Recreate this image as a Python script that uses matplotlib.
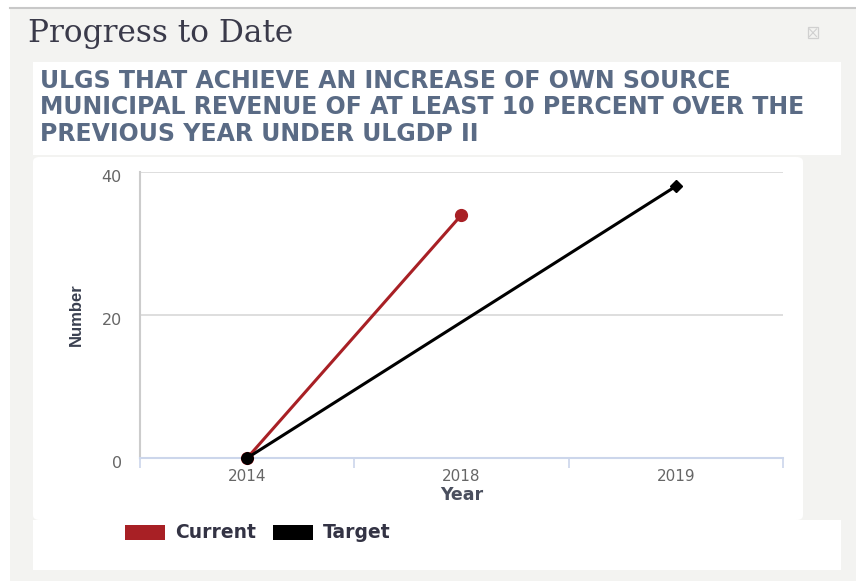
import matplotlib
matplotlib.use("Agg")
import matplotlib.pyplot as plt
from matplotlib.patches import FancyBboxPatch, Rectangle
import matplotlib.transforms as mtransforms
import numpy as np

categories = ["2014", "2018", "2019"]
current = [0, 34, None]
target = [0, None, 38]
y_ticks = [0, 20, 40]
panel_title = "Progress to Date"
chart_title = ["ULGS THAT ACHIEVE AN INCREASE OF OWN SOURCE",
               "MUNICIPAL REVENUE OF AT LEAST 10 PERCENT OVER THE",
               "PREVIOUS YEAR UNDER ULGDP II"]

W, H = 856, 581
fig = plt.figure(figsize=(W / 100, H / 100), dpi=100)
fig.patch.set_facecolor("white")

def fx(x):
    return x / W

def fy(y):
    return 1 - y / H

# panel background
fig.patches.append(Rectangle((fx(10), 0), fx(W - 10), fy(8), transform=fig.transFigure,
                             facecolor="#f3f3f1", edgecolor="none", zorder=0))
fig.add_artist(plt.Line2D([fx(10), 1], [fy(8), fy(8)], transform=fig.transFigure,
                          color="#c8c8c8", lw=1.5, zorder=1))
# white boxes
fig.patches.append(Rectangle((fx(33), fy(155)), fx(841 - 33), (155 - 62) / H, transform=fig.transFigure,
                             facecolor="white", edgecolor="none", zorder=1))
fig.patches.append(FancyBboxPatch((fx(33), fy(520)), fx(803 - 33), (520 - 157) / H,
                                  boxstyle="round,pad=0,rounding_size=0.008", transform=fig.transFigure,
                                  facecolor="white", edgecolor="none", zorder=1))
fig.patches.append(Rectangle((fx(33), fy(570)), fx(841 - 33), (570 - 520) / H, transform=fig.transFigure,
                             facecolor="white", edgecolor="none", zorder=1))
# close icon
fig.patches.append(Rectangle((fx(808), fy(38)), fx(10), 11 / H, transform=fig.transFigure,
                             facecolor="#f3f3f1", edgecolor="#d0d0d0", lw=0.9, zorder=2))
fig.add_artist(plt.Line2D([fx(809.5), fx(816.5)], [fy(29), fy(36.5)], transform=fig.transFigure,
                          color="#d0d0d0", lw=0.8, zorder=3))
fig.add_artist(plt.Line2D([fx(809.5), fx(816.5)], [fy(36.5), fy(29)], transform=fig.transFigure,
                          color="#d0d0d0", lw=0.8, zorder=3))

fig.text(fx(28), fy(42), panel_title, fontsize=22.5, family="DejaVu Serif", color="#3a3a4a",
         va="baseline", ha="left")
for i, line in enumerate(chart_title):
    fig.text(fx(40), fy(88 + i * 26.5), line, fontsize=17, family="DejaVu Sans", weight="bold",
             color="#5a6b85", va="baseline", ha="left")

ax = fig.add_axes([fx(140), fy(458), fx(783 - 140), (458 - 172) / H])
ax.set_zorder(5)
ax.set_facecolor("white")
x = np.arange(len(categories))

def pts(vals):
    xs = [xi for xi, v in zip(x, vals) if v is not None]
    ys = [v for v in vals if v is not None]
    return xs, ys

cx, cy = pts(current)
tx, ty = pts(target)
ax.plot(cx, cy, color="#a82025", lw=2.2, marker="o", ms=8.5, zorder=3, clip_on=False)
ax.plot(tx, ty, color="black", lw=2.2, marker="D", ms=6.5, zorder=4, clip_on=False)
ax.plot([tx[0]], [ty[0]], color="black", marker="o", ms=8, zorder=5, clip_on=False)

ax.set_xlim(-0.5, len(categories) - 0.5)
ax.set_ylim(0, 40)
ax.set_yticks(y_ticks)
ax.set_xticks(x)
ax.set_xticklabels(categories)
ax.set_xticks(np.arange(-0.5, len(categories)), minor=True)
ax.grid(axis="y", color="#d8d8d8", lw=1.2)
ax.set_axisbelow(True)
for s in ["top", "right"]:
    ax.spines[s].set_visible(False)
ax.spines["left"].set_color("#cccccc")
ax.spines["left"].set_linewidth(1.5)
ax.spines["bottom"].set_color("#ccd6eb")
ax.spines["bottom"].set_linewidth(1.5)
ax.tick_params(axis="y", length=0, pad=13, labelsize=11.5, labelcolor="#666666")
ax.tick_params(axis="x", which="major", length=0, pad=8, labelsize=11, labelcolor="#666666")
ax.tick_params(axis="x", which="minor", length=7, color="#ccd6eb", width=1.2, direction="out")
off = mtransforms.ScaledTranslation(0, -4 / 100, fig.dpi_scale_trans)
for lab in ax.get_yticklabels():
    lab.set_family("DejaVu Sans")
    lab.set_transform(lab.get_transform() + off)
for lab in ax.get_xticklabels():
    lab.set_family("DejaVu Sans")
ax.set_xlabel("Year", fontsize=12.5, weight="bold", color="#4a4f5e", family="DejaVu Sans", labelpad=1)
ax.set_ylabel("Number", fontsize=12, weight="bold", color="#3a4050", family="Liberation Sans",
              labelpad=13)

# legend
fig.patches.append(Rectangle((fx(125), fy(540)), fx(40), 15 / H, transform=fig.transFigure,
                             facecolor="#a82025", edgecolor="none", zorder=3))
fig.text(fx(175), fy(538.5), "Current", fontsize=13.5, weight="bold", color="#333344",
         family="DejaVu Sans", va="baseline", ha="left")
fig.patches.append(Rectangle((fx(273), fy(540)), fx(40), 15 / H, transform=fig.transFigure,
                             facecolor="black", edgecolor="none", zorder=3))
fig.text(fx(323), fy(538.5), "Target", fontsize=13.5, weight="bold", color="#333344",
         family="DejaVu Sans", va="baseline", ha="left")

fig.savefig("out.png", dpi=100)
